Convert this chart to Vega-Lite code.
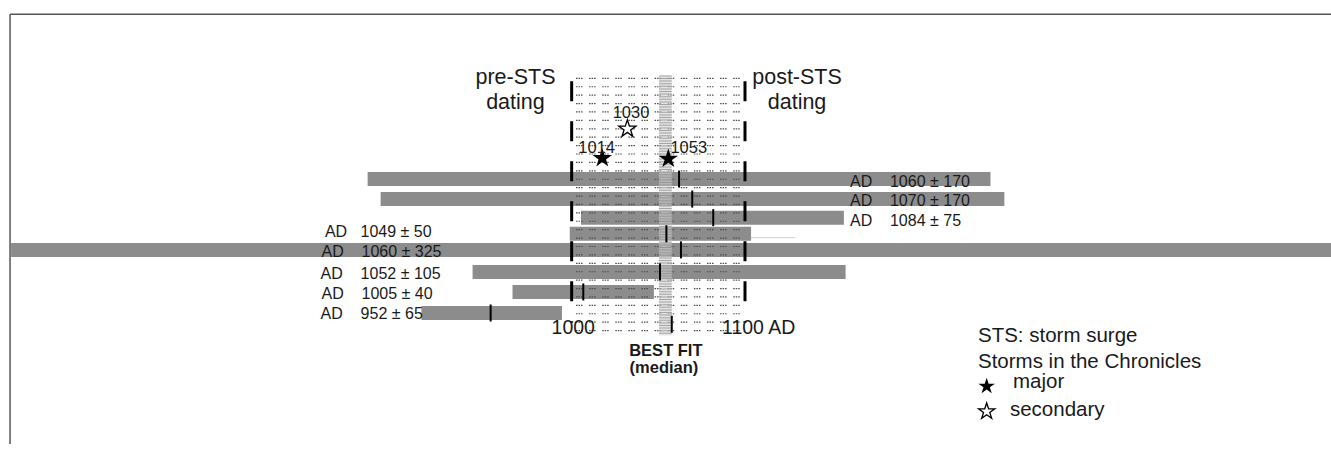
{
  "$schema": "https://vega.github.io/schema/vega-lite/v6.json",
  "width": 1331,
  "height": 449,
  "autosize": {"type": "none"},
  "padding": 0,
  "background": "white",
  "config": {"view": {"stroke": null}, "font": "Liberation Sans"},
  "datasets": {
    "border": [
      {"yr": 676.4, "yr2": 1437.76, "row": -7.597, "row2": -7.597},
      {"yr": 676.4, "yr2": 676.4, "row": -7.597, "row2": 14.8265}
    ],
    "bars": [
      {"yr": 882.5, "yr2": 1241.5, "row": 1.0},
      {"yr": 890, "yr2": 1249.5, "row": 2.046},
      {"yr": 1005.5, "yr2": 1157, "row": 3.015},
      {"yr": 999, "yr2": 1103.5, "row": 3.857},
      {"yr": 677, "yr2": 1440, "row": 4.699},
      {"yr": 943, "yr2": 1158, "row": 5.847},
      {"yr": 966, "yr2": 1047.5, "row": 6.893},
      {"yr": 913.5, "yr2": 994.5, "row": 7.99}
    ],
    "faint": [{"yr": 1103.3, "yr2": 1129, "row": 4.061}],
    "grid": [
      {"yr": 1002.6, "yr2": 1098.2, "row": -4.255}, {"yr": 1002.6, "yr2": 1098.2, "row": -3.816},
      {"yr": 1002.6, "yr2": 1098.2, "row": -3.378}, {"yr": 1002.6, "yr2": 1098.2, "row": -2.939},
      {"yr": 1002.6, "yr2": 1098.2, "row": -2.5}, {"yr": 1002.6, "yr2": 1098.2, "row": -2.061},
      {"yr": 1002.6, "yr2": 1098.2, "row": -1.622}, {"yr": 1002.6, "yr2": 1098.2, "row": -1.184},
      {"yr": 1002.6, "yr2": 1098.2, "row": -0.745}, {"yr": 1002.6, "yr2": 1098.2, "row": -0.306},
      {"yr": 1002.6, "yr2": 1098.2, "row": 0.133}, {"yr": 1002.6, "yr2": 1098.2, "row": 0.571},
      {"yr": 1002.6, "yr2": 1098.2, "row": 1.01}, {"yr": 1002.6, "yr2": 1098.2, "row": 1.449},
      {"yr": 1002.6, "yr2": 1098.2, "row": 1.888}, {"yr": 1002.6, "yr2": 1098.2, "row": 2.327},
      {"yr": 1002.6, "yr2": 1098.2, "row": 2.765}, {"yr": 1002.6, "yr2": 1098.2, "row": 3.204},
      {"yr": 1002.6, "yr2": 1098.2, "row": 3.643}, {"yr": 1002.6, "yr2": 1098.2, "row": 4.082},
      {"yr": 1002.6, "yr2": 1098.2, "row": 4.52}, {"yr": 1002.6, "yr2": 1098.2, "row": 4.959},
      {"yr": 1002.6, "yr2": 1098.2, "row": 5.398}, {"yr": 1002.6, "yr2": 1098.2, "row": 5.837},
      {"yr": 1002.6, "yr2": 1098.2, "row": 6.276}, {"yr": 1002.6, "yr2": 1098.2, "row": 6.714},
      {"yr": 1002.6, "yr2": 1098.2, "row": 7.153}, {"yr": 1002.6, "yr2": 1098.2, "row": 7.592},
      {"yr": 1002.6, "yr2": 1098.2, "row": 8.031}, {"yr": 1002.6, "yr2": 1098.2, "row": 8.469},
      {"yr": 1002.6, "yr2": 1098.2, "row": 8.908}
    ],
    "band": [{"yr": 1050.4, "yr2": 1057.8, "row": -4.408, "row2": 9.163}],
    "stripes": [{"yr": 1054.1, "row": -4.408, "row2": 9.163}],
    "dashes": [
      {"yr": 1000.1, "row": -4.102, "row2": 8.5},
      {"yr": 1100, "row": -4.102, "row2": 8.5}
    ],
    "medians": [
      {"yr": 1062, "row": 1.0},
      {"yr": 1069.6, "row": 2.046},
      {"yr": 1081.7, "row": 3.015},
      {"yr": 1054.7, "row": 3.857},
      {"yr": 1063.1, "row": 4.699},
      {"yr": 1051, "row": 5.847},
      {"yr": 1006.8, "row": 6.893},
      {"yr": 953.4, "row": 7.99},
      {"yr": 1057.8, "row": 8.577}
    ],
    "majorStars": [
      {"yr": 1017.75, "row": -0.087},
      {"yr": 1055.8, "row": -0.056}
    ],
    "secondaryStars": [{"yr": 1032.2, "row": -1.617}],
    "legendMajor": [{"yr": 1239.3, "row": 11.816}],
    "legendSecondary": [{"yr": 1239.3, "row": 13.128}],
    "barLabels": [
      {"t": "AD\u00a0\u00a0\u00a0\u00a01060 ± 170", "yr": 1160.5, "row": 1.393},
      {"t": "AD\u00a0\u00a0\u00a0\u00a01070 ± 170", "yr": 1160.5, "row": 2.413},
      {"t": "AD\u00a0\u00a0\u00a0\u00a01084 ± 75", "yr": 1160.5, "row": 3.434},
      {"t": "AD\u00a0\u00a0\u00a01049 ± 50", "yr": 857.9, "row": 4.046},
      {"t": "AD\u00a0\u00a0\u00a0\u00a01060 ± 325", "yr": 855.9, "row": 5.066},
      {"t": "AD\u00a0\u00a0\u00a0\u00a01052 ± 105", "yr": 855.4, "row": 6.204},
      {"t": "AD\u00a0\u00a0\u00a0\u00a01005 ± 40", "yr": 855.9, "row": 7.276},
      {"t": "AD\u00a0\u00a0\u00a0\u00a0952 ± 65", "yr": 855.4, "row": 8.296}
    ],
    "headers": [
      {"t": "pre-STS", "yr": 967.7, "row": -3.974},
      {"t": "dating", "yr": 967.7, "row": -2.673},
      {"t": "post-STS", "yr": 1130, "row": -3.974},
      {"t": "dating", "yr": 1130, "row": -2.673}
    ],
    "axisLabels": [
      {"t": "1000", "yr": 1001, "row": 9.097},
      {"t": "1100 AD", "yr": 1107.9, "row": 9.097}
    ],
    "starLabels": [
      {"t": "1014", "yr": 1014.5, "row": -0.342},
      {"t": "1053", "yr": 1067.6, "row": -0.342},
      {"t": "1030", "yr": 1034.3, "row": -2.163}
    ],
    "bestFit": [
      {"t": "BEST FIT", "yr": 1054.4, "row": 10.235},
      {"t": "(median)", "yr": 1053.3, "row": 11.102}
    ],
    "legendText": [
      {"t": "STS: storm surge", "yr": 1234.3, "row": 9.52},
      {"t": "Storms in the Chronicles", "yr": 1234.3, "row": 10.883},
      {"t": "major", "yr": 1254.5, "row": 11.903},
      {"t": "secondary", "yr": 1252.7, "row": 13.347}
    ]
  },
  "encoding": {
    "x": {"field": "yr", "type": "quantitative", "scale": {"domain": [670.61, 1437.76], "nice": false, "zero": false}, "axis": null},
    "y": {"field": "row", "type": "quantitative", "scale": {"domain": [-8.0816, 14.8265], "reverse": true, "nice": false, "zero": false}, "axis": null}
  },
  "layer": [
    {
      "data": {"name": "border"},
      "mark": {"type": "rule", "color": "#555555", "strokeWidth": 1.5},
      "encoding": {"x2": {"field": "yr2"}, "y2": {"field": "row2"}}
    },
    {
      "data": {"name": "bars"},
      "mark": {"type": "bar", "height": 14, "color": "#8c8c8c", "clip": true},
      "encoding": {"x2": {"field": "yr2"}}
    },
    {
      "data": {"name": "faint"},
      "mark": {"type": "rule", "color": "#cccccc", "strokeWidth": 1},
      "encoding": {"x2": {"field": "yr2"}}
    },
    {
      "data": {"name": "grid"},
      "mark": {"type": "rule", "color": "#4d4d4d", "strokeWidth": 1.2, "strokeDash": [1.5, 1, 1.5, 1, 1.5, 6.6]},
      "encoding": {"x2": {"field": "yr2"}}
    },
    {
      "data": {"name": "band"},
      "mark": {"type": "rect", "color": "#d2d2d2", "opacity": 0.6},
      "encoding": {"x2": {"field": "yr2"}, "y2": {"field": "row2"}}
    },
    {
      "data": {"name": "stripes"},
      "mark": {"type": "rule", "color": "#8a8a8a", "strokeWidth": 12.8, "strokeDash": [1, 1.6], "opacity": 0.7},
      "encoding": {"y2": {"field": "row2"}}
    },
    {
      "data": {"name": "dashes"},
      "mark": {"type": "rule", "color": "#000000", "strokeWidth": 3, "strokeDash": [20, 20]},
      "encoding": {"y2": {"field": "row2"}}
    },
    {
      "data": {"name": "medians"},
      "mark": {"type": "tick", "orient": "vertical", "size": 17, "thickness": 2, "color": "#000000", "opacity": 1}
    },
    {
      "data": {"name": "majorStars"},
      "mark": {"type": "point", "shape": "M0,-1L0.225,-0.309L0.951,-0.309L0.363,0.118L0.588,0.809L0,0.382L-0.588,0.809L-0.363,0.118L-0.951,-0.309L-0.225,-0.309Z", "size": 420, "filled": true, "color": "#000000", "opacity": 1}
    },
    {
      "data": {"name": "secondaryStars"},
      "mark": {"type": "point", "shape": "M0,-1L0.225,-0.309L0.951,-0.309L0.363,0.118L0.588,0.809L0,0.382L-0.588,0.809L-0.363,0.118L-0.951,-0.309L-0.225,-0.309Z", "size": 330, "filled": true, "fill": "#ffffff", "stroke": "#000000", "strokeWidth": 1.3, "opacity": 1}
    },
    {
      "data": {"name": "legendMajor"},
      "mark": {"type": "point", "shape": "M0,-1L0.225,-0.309L0.951,-0.309L0.363,0.118L0.588,0.809L0,0.382L-0.588,0.809L-0.363,0.118L-0.951,-0.309L-0.225,-0.309Z", "size": 300, "filled": true, "color": "#000000", "opacity": 1}
    },
    {
      "data": {"name": "legendSecondary"},
      "mark": {"type": "point", "shape": "M0,-1L0.225,-0.309L0.951,-0.309L0.363,0.118L0.588,0.809L0,0.382L-0.588,0.809L-0.363,0.118L-0.951,-0.309L-0.225,-0.309Z", "size": 290, "filled": true, "fill": "#ffffff", "stroke": "#000000", "strokeWidth": 1.3, "opacity": 1}
    },
    {
      "data": {"name": "barLabels"},
      "mark": {"type": "text", "align": "left", "baseline": "alphabetic", "fontSize": 16, "color": "#1a1a1a"},
      "encoding": {"text": {"field": "t"}}
    },
    {
      "data": {"name": "headers"},
      "mark": {"type": "text", "align": "center", "baseline": "alphabetic", "fontSize": 21.5, "color": "#1a1a1a"},
      "encoding": {"text": {"field": "t"}}
    },
    {
      "data": {"name": "axisLabels"},
      "mark": {"type": "text", "align": "center", "baseline": "alphabetic", "fontSize": 19.5, "color": "#1a1a1a"},
      "encoding": {"text": {"field": "t"}}
    },
    {
      "data": {"name": "starLabels"},
      "mark": {"type": "text", "align": "center", "baseline": "alphabetic", "fontSize": 16.5, "color": "#1a1a1a"},
      "encoding": {"text": {"field": "t"}}
    },
    {
      "data": {"name": "bestFit"},
      "mark": {"type": "text", "align": "center", "baseline": "alphabetic", "fontSize": 16.5, "fontWeight": "bold", "color": "#1a1a1a"},
      "encoding": {"text": {"field": "t"}}
    },
    {
      "data": {"name": "legendText"},
      "mark": {"type": "text", "align": "left", "baseline": "alphabetic", "fontSize": 20.5, "color": "#1a1a1a"},
      "encoding": {"text": {"field": "t"}}
    }
  ]
}
